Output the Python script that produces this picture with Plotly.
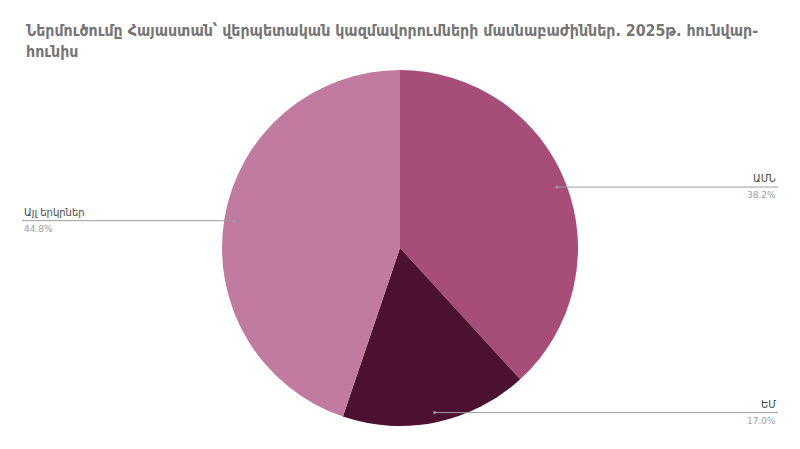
import math
import plotly.graph_objects as go

labels = ["ԱՄՆ", "ԵՄ", "Այլ երկրներ"]
values = [38.2, 17.0, 44.8]
colors = ["#A64D79", "#4C1130", "#C27BA0"]
title = "Ներմուծումը Հայաստան՝ վերպետական կազմավորումների մասնաբաժիններ. 2025թ. հունվար-<br>հունիս"

W, H = 800, 449
OFF = 8  # page body margin
cx_px, cy_px, R = 400 - OFF, 248 - OFF, 178
dom_y = [(H - (cy_px + R)) / H, (H - (cy_px - R)) / H]
dom_x = [0, 2 * cx_px / W]

fig = go.Figure(go.Pie(
    labels=labels, values=values, sort=False, direction="clockwise", rotation=0,
    marker=dict(colors=colors, line=dict(width=0)), textinfo="none",
    domain=dict(x=dom_x, y=dom_y), showlegend=False, hoverinfo="label+percent",
))

shapes, annotations = [], []
total = sum(values)
cum = 0
for lab, v in zip(labels, values):
    mid = (cum + v / 2) / total * 2 * math.pi
    cum += v
    px = cx_px + 0.945 * R * math.sin(mid)
    py = cy_px - 0.945 * R * math.cos(mid)
    right = math.sin(mid) > 0
    end = (778 if right else 22) - OFF
    shapes.append(dict(type="line", xref="paper", yref="paper",
                       x0=px / W, x1=end / W, y0=1 - py / H, y1=1 - py / H,
                       line=dict(color="#9e9e9e", width=1)))
    shapes.append(dict(type="circle", xref="paper", yref="paper",
                       x0=(px - 1.5) / W, x1=(px + 1.5) / W,
                       y0=1 - (py + 1.5) / H, y1=1 - (py - 1.5) / H,
                       fillcolor="#9e9e9e", line=dict(width=0)))
    xa = "right" if right else "left"
    annotations.append(dict(xref="paper", yref="paper", x=end / W, y=1 - (py - 1) / H,
                            text=lab, showarrow=False, xanchor=xa, yanchor="bottom",
                            font=dict(family="DejaVu Sans", size=10, color="#444444")))
    annotations.append(dict(xref="paper", yref="paper", x=end / W, y=1 - (py + 1) / H,
                            text=f"{v / total * 100:.1f}%", showarrow=False, xanchor=xa, yanchor="top",
                            font=dict(family="DejaVu Sans", size=9, color="#a0a0a0")))

annotations.append(dict(xref="paper", yref="paper", x=(24 - OFF) / W, y=1 - (19 - OFF) / H,
                        xanchor="left", yanchor="top",
                        text=f"<b>{title}</b>", showarrow=False, align="left",
                        font=dict(family="DejaVu Sans Condensed", size=15.8, color="#757575")))

fig.update_layout(width=W, height=H, margin=dict(l=0, r=0, t=0, b=0),
                  paper_bgcolor="white", plot_bgcolor="white",
                  shapes=shapes, annotations=annotations)
fig.write_html("out.html")
